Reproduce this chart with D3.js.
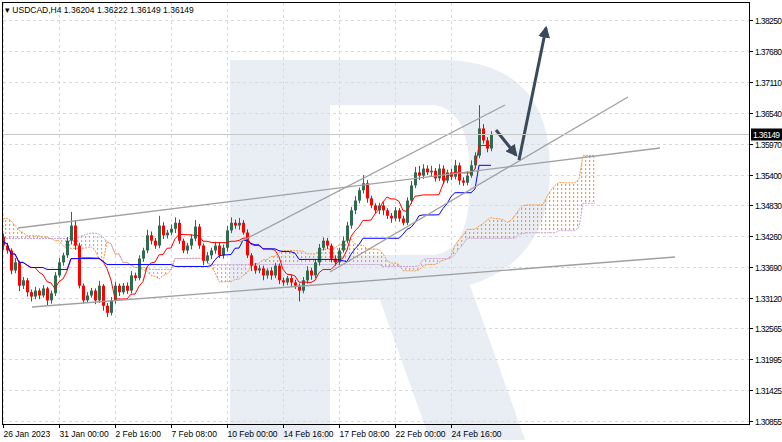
<!DOCTYPE html>
<html><head><meta charset="utf-8">
<script src="https://cdn.jsdelivr.net/npm/d3@7"></script>
<style>body{margin:0;background:#fff}svg{display:block;font-family:"Liberation Sans",Arial,sans-serif}</style>
</head><body><svg id="c" width="782" height="442"></svg>
<script>
// closes of each H4 bar, open = previous close
var closes = [1.3409,1.3400,1.3363,1.3378,1.3335,1.3345,1.3323,1.3315,1.3326,1.3317,
1.3330,1.3308,1.3321,1.3354,1.3378,1.3391,1.3418,1.3446,1.3409,1.3335,
1.3308,1.3317,1.3326,1.3308,1.3335,1.3298,1.3285,1.3308,1.3335,1.3323,
1.3335,1.3326,1.3354,1.3349,1.3385,1.3400,1.3428,1.3418,1.3409,1.3446,
1.3428,1.3433,1.3440,1.3451,1.3418,1.3400,1.3409,1.3422,1.3444,1.3409,
1.3381,1.3391,1.3400,1.3409,1.3391,1.3405,1.3437,1.3451,1.3446,1.3451,
1.3433,1.3391,1.3372,1.3363,1.3367,1.3354,1.3363,1.3354,1.3372,1.3345,
1.3341,1.3349,1.3341,1.3335,1.3326,1.3345,1.3363,1.3354,1.3378,1.3405,
1.3418,1.3409,1.3385,1.3378,1.3400,1.3418,1.3446,1.3474,1.3492,1.3511,
1.3524,1.3496,1.3483,1.3474,1.3483,1.3474,1.3464,1.3459,1.3474,1.3459,
1.3451,1.3492,1.3520,1.3544,1.3538,1.3551,1.3544,1.3547,1.3533,1.3551,
1.3529,1.3544,1.3536,1.3557,1.3529,1.3525,1.3538,1.3557,1.3575,1.3625,
1.3603,1.3588,1.36149];
var firstOpen = 1.3425;
// wicks above / below the body, in pips
var wickUp = [6,5,4,8,3,6,4,5,7,4, 6,3,5,6,8,5,7,25,10,5, 4,6,5,4,9,3,5,6,7,4,
5,6,8,5,6,5,10,7,5,18, 6,5,8,10,6,4,5,7,12,5, 4,6,5,7,5,6,8,10,6,9,
5,6,4,5,6,5,4,6,5,4, 5,4,6,5,4,6,8,5,6,7, 6,5,4,6,5,8,7,6,8,5,
15,6,5,4,5,6,4,5,6,4, 5,6,8,10,12,8,6,9,5,8, 6,5,7,10,5,6,8,9,6,43, 8,6,5];
var wickDn = [8,6,7,5,10,6,8,9,5,7, 4,9,6,5,4,6,5,7,8,5, 6,5,4,7,5,9,8,5,6,7,
4,6,5,5,4,6,5,7,6,5, 7,6,5,8,6,5,6,7,5,6, 8,5,7,6,5,6,7,5,6,8, 4,5,10,6,5,9,6,8,5,7,
6,5,7,6,20,5,6,8,5,6, 5,6,7,6,5,4,5,6,7,5, 6,8,5,6,7,9,6,8,5,6,
5,4,6,5,8,6,5,7,6,5, 7,5,6,5,8,6,5,4,6,5, 6,7,5];
// cloud spans already projected onto the first 26 bars (from earlier history)
var spanAPrior = [1.3459,1.3459,1.3455,1.3446,1.3437,1.3433,1.3427,1.3427,1.3427,1.3427,
1.3425,1.3425,1.3422,1.3418,1.3418,1.3409,1.3404,1.3404,1.3404,1.3404,
1.3404,1.3405,1.3407,1.3400,1.3385,1.3378];
var spanBPrior = [1.3422,1.3422,1.3422,1.3422,1.3422,1.3422,1.3422,1.3422,1.3422,1.3422,
1.3422,1.3422,1.3422,1.3422,1.3422,1.3422,1.3422,1.3422,1.3422,1.3425,
1.3428,1.3430,1.3432,1.3432,1.3430,1.3425];
var priceTicks = [1.38250,1.37680,1.37110,1.36540,1.35970,1.35400,1.34830,1.34260,1.33690,1.33120,1.32565,1.31995,1.31425,1.30855];
var dateLabels = ["26 Jan 2023","31 Jan 00:00","2 Feb 16:00","7 Feb 08:00","10 Feb 00:00","14 Feb 16:00","17 Feb 08:00","22 Feb 00:00","24 Feb 16:00"];
var lastPrice = 1.36149;

var svg = d3.select("#c");
var W = 749, H = 424;
var x = d3.scaleLinear().domain([0, 1]).range([3, 7]);
var y = d3.scaleLinear().domain([1.38250, 1.30855]).range([20, 421]);

var bars = closes.map(function(c, i) {
  var o = i ? closes[i-1] : firstOpen;
  return {i: i, o: o, c: c,
    h: Math.max(o, c) + wickUp[i] * 0.0001,
    l: Math.min(o, c) - wickDn[i] * 0.0001};
});

function mid(i, n) {
  var s = bars.slice(Math.max(0, i - n + 1), i + 1);
  return (d3.max(s, d => d.h) + d3.min(s, d => d.l)) / 2;
}
var tenkan = bars.map(d => mid(d.i, 9));
var kijun = bars.map(d => mid(d.i, 26));
var cloud = [];
for (var i = 0; i < bars.length + 26; i++) {
  if (i < 26) cloud.push({i: i, a: spanAPrior[i], b: spanBPrior[i]});
  else { var k = i - 26; cloud.push({i: i, a: (tenkan[k] + kijun[k]) / 2, b: mid(k, 52)}); }
}

// watermark
svg.append("path").attr("fill", "#e9eef4").attr("fill-rule", "evenodd")
  .attr("d", "M230,60 L440,60 Q550,60 550,170 Q550,260 470,285 L525,440 L430,440 L380,300 L330,300 L330,440 L230,440 Z M330,105 L330,255 L430,255 Q470,255 470,180 Q470,105 430,105 Z");

// grid
var grid = svg.append("g").attr("stroke", "#d9d9d9").attr("stroke-dasharray", "3,3");
priceTicks.forEach(function(p) {
  grid.append("line").attr("x1", 3).attr("x2", W).attr("y1", Math.round(y(p)) + .5).attr("y2", Math.round(y(p)) + .5);
});
dateLabels.forEach(function(t, k) {
  var xx = Math.round(x(k * 14)) + .5;
  grid.append("line").attr("x1", xx).attr("x2", xx).attr("y1", 3).attr("y2", H);
});

// cloud hatch
var defs = svg.append("defs");
[["hA", "#f09a4a"], ["hB", "#c9a3d6"]].forEach(function(p) {
  var pt = defs.append("pattern").attr("id", p[0]).attr("patternUnits", "userSpaceOnUse").attr("width", 4).attr("height", 4);
  pt.append("rect").attr("x", 1).attr("y", 0).attr("width", 1.2).attr("height", 2).attr("fill", p[1]);
});
svg.append("path").datum(cloud).attr("fill", "url(#hA)")
  .attr("d", d3.area().x(d => x(d.i)).y0(d => y(d.b)).y1(d => y(Math.max(d.a, d.b))));
svg.append("path").datum(cloud).attr("fill", "url(#hB)")
  .attr("d", d3.area().x(d => x(d.i)).y0(d => y(d.a)).y1(d => y(Math.max(d.a, d.b))));
svg.append("path").datum(cloud).attr("fill", "none").attr("stroke", "#f09a4a").attr("stroke-dasharray", "2,1")
  .attr("d", d3.line().x(d => x(d.i)).y(d => y(d.a)));
svg.append("path").datum(cloud).attr("fill", "none").attr("stroke", "#c9a3d6").attr("stroke-dasharray", "2,1")
  .attr("d", d3.line().x(d => x(d.i)).y(d => y(d.b)));

// candles
var cg = svg.append("g");
bars.forEach(function(d) {
  var col = d.c >= d.o ? "#2f6b4f" : "#ff0000";
  var xx = Math.round(x(d.i)) + .5;
  cg.append("line").attr("x1", xx).attr("x2", xx).attr("y1", y(d.h)).attr("y2", y(d.l)).attr("stroke", col);
  cg.append("rect").attr("x", xx - 1.5).attr("width", 3)
    .attr("y", y(Math.max(d.o, d.c))).attr("height", Math.max(1, Math.abs(y(d.o) - y(d.c)))).attr("fill", col);
});

svg.append("path").datum(tenkan).attr("fill", "none").attr("stroke", "#ff0000")
  .attr("d", d3.line().x((d, i) => x(i)).y(d => y(d)));
svg.append("path").datum(kijun).attr("fill", "none").attr("stroke", "#0000ff")
  .attr("d", d3.line().x((d, i) => x(i)).y(d => y(d)));

// trend lines
var tl = svg.append("g").attr("stroke", "#a0a0a0").attr("stroke-width", 1.3);
[[32,307,675,257],[18,228,660,148],[240,242,505,105],[330,272,628,97]].forEach(function(l) {
  tl.append("line").attr("x1", l[0]).attr("y1", l[1]).attr("x2", l[2]).attr("y2", l[3]);
});

// arrows
defs.append("marker").attr("id", "ah").attr("viewBox", "0 0 10 10").attr("refX", 8).attr("refY", 5)
  .attr("markerWidth", 4).attr("markerHeight", 4).attr("orient", "auto")
  .append("path").attr("d", "M0,0 L10,5 L0,10 Z").attr("fill", "#3b4a5a");
var ar = svg.append("g").attr("stroke", "#3b4a5a").attr("stroke-width", 3).attr("marker-end", "url(#ah)");
ar.append("line").attr("x1", 496).attr("y1", 130).attr("x2", 516).attr("y2", 155);
ar.append("line").attr("x1", 519).attr("y1", 160).attr("x2", 546).attr("y2", 28);

// frame
svg.append("rect").attr("x", 2.5).attr("y", 2.5).attr("width", W - 2).attr("height", H - 2)
  .attr("fill", "none").attr("stroke", "#000");

// price axis
var pa = svg.append("g").attr("font-size", 8.5).attr("fill", "#000");
priceTicks.forEach(function(p) {
  var yy = Math.round(y(p)) + .5;
  pa.append("line").attr("x1", W).attr("x2", W + 4).attr("y1", yy).attr("y2", yy).attr("stroke", "#000");
  pa.append("text").attr("x", W + 6).attr("y", yy + 3).attr("textLength", 27).text(p.toFixed(5));
});
var ly = Math.round(y(lastPrice)) + .5;
svg.append("line").attr("x1", 3).attr("x2", W).attr("y1", ly).attr("y2", ly).attr("stroke", "#c8c8c8");
svg.append("rect").attr("x", W + 2).attr("y", ly - 6).attr("width", 31).attr("height", 12).attr("fill", "#000");
svg.append("text").attr("x", W + 4).attr("y", ly + 3.5).attr("font-size", 8.5).attr("fill", "#fff")
  .attr("textLength", 27).text(lastPrice.toFixed(5));

// date axis
var da = svg.append("g").attr("font-size", 8.5);
dateLabels.forEach(function(t, k) {
  var xx = Math.round(x(k * 14)) + .5;
  da.append("line").attr("x1", xx).attr("x2", xx).attr("y1", H).attr("y2", H + 4).attr("stroke", "#000");
  da.append("text").attr("x", xx).attr("y", H + 13).text(t);
});

svg.append("text").attr("x", 5).attr("y", 13).attr("font-size", 8.5)
  .text("\u25BE USDCAD,H4  1.36204 1.36222 1.36149 1.36149");
</script></body></html>
